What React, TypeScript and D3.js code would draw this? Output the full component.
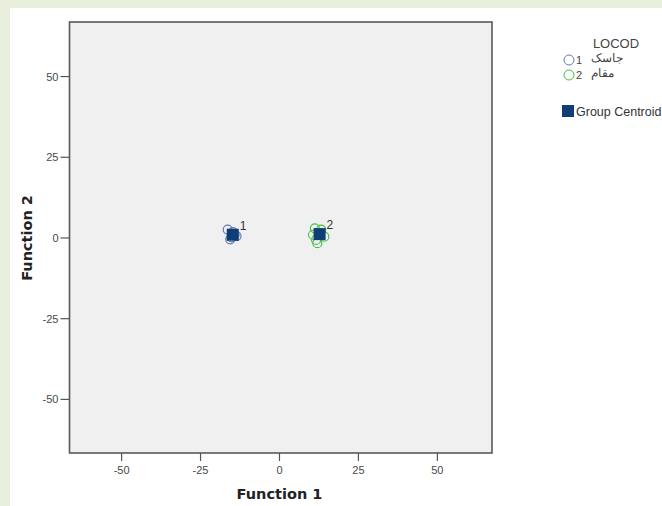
import React from "react";
import * as d3 from "d3";

const xTicks = [-50, -25, 0, 25, 50];
const yTicks = [50, 25, 0, -25, -50];
const groupCodes = [1, 2];
const groupNames = ["جاسک", "مقام"];
const groupColors = ["#6878b8", "#45c045"];
const group1F1 = [-16.4, -14.2, -15.6, -13.6, -14.8, -15.2];
const group1F2 = [2.6, 1.0, -0.4, 0.6, 1.8, 0.2];
const group2F1 = [11.2, 14.2, 12.0, 10.6, 13.2, 11.6, 12.8];
const group2F2 = [3.0, 0.4, -1.6, 1.0, 2.6, -0.6, 1.4];
const centroidF1 = [-14.8, 12.7];
const centroidF2 = [1.0, 1.2];

export default function App() {
  const W = 662, H = 506;
  const left = 69.5, right = 492, top = 22, bottom = 453;
  const x = d3.scaleLinear().domain([-66.5, 67.3]).range([left, right]);
  const y = d3.scaleLinear().domain([-66.6, 66.9]).range([bottom, top]);
  const groups = [
    { f1: group1F1, f2: group1F2 },
    { f1: group2F1, f2: group2F2 },
  ];
  const font = "Arial, 'Liberation Sans', sans-serif";
  const boldFont = "'DejaVu Sans', Arial, sans-serif";
  return (
    <svg width={W} height={H} style={{ position: "absolute", left: 0, top: 0 }} fontFamily={font}>
      <rect x={0} y={0} width={W} height={H} fill="#e8efdd" />
      <rect x={10} y={8} width={W - 10} height={H - 8} fill="#ffffff" />
      <defs>
        <clipPath id="plot">
          <rect x={left} y={top} width={right - left} height={bottom - top} />
        </clipPath>
      </defs>
      <rect x={left} y={top} width={right - left} height={bottom - top} fill="#f0f0f0" />
      <g clipPath="url(#plot)">
        {groups.map((g, gi) =>
          g.f1.map((v, i) => (
            <circle key={`${gi}-${i}`} cx={x(v)} cy={y(g.f2[i])} r={4.5} fill="none" stroke={groupColors[gi]} strokeWidth={1.2} />
          ))
        )}
        {centroidF1.map((v, i) => (
          <rect key={i} x={x(v) - 6} y={y(centroidF2[i]) - 6} width={12} height={12} fill="#0f3d75" />
        ))}
        {centroidF1.map((v, i) => (
          <text key={`l${i}`} x={x(v) + 7} y={y(centroidF2[i]) - 5} fontSize={12} fill="#333">{groupCodes[i]}</text>
        ))}
      </g>
      <rect x={left} y={top} width={right - left} height={bottom - top} fill="none" stroke="#595959" strokeWidth={1.6} />
      {xTicks.map((t) => (
        <g key={t}>
          <line x1={x(t)} x2={x(t)} y1={bottom} y2={bottom + 8} stroke="#555" strokeWidth={1.2} />
          <text x={x(t)} y={bottom + 21} textAnchor="middle" fontSize={11} fill="#484848">{t}</text>
        </g>
      ))}
      {yTicks.map((t) => (
        <g key={t}>
          <line x1={left - 9} x2={left} y1={y(t)} y2={y(t)} stroke="#555" strokeWidth={1.2} />
          <text x={left - 11} y={y(t) + 4} textAnchor="end" fontSize={11} fill="#484848">{t}</text>
        </g>
      ))}
      <text x={x(0)} y={499} textAnchor="middle" fontSize={14.5} fontWeight="bold" fontFamily={boldFont} fill="#222">Function 1</text>
      <text transform={`translate(32,${y(0)}) rotate(-90)`} textAnchor="middle" fontSize={14.5} fontWeight="bold" fontFamily={boldFont} fill="#222">Function 2</text>
      <text x={616} y={48} textAnchor="middle" fontSize={13} fill="#444">LOCOD</text>
      {groupCodes.map((c, i) => (
        <g key={c}>
          <circle cx={569} cy={60 + i * 15} r={5} fill="none" stroke={groupColors[i]} strokeWidth={1} />
          <text x={576} y={64 + i * 15} fontSize={11} fill="#444">{c}</text>
          <text x={591} y={62 + i * 15} textAnchor="start" fontSize={11.5} fill="#444">{groupNames[i]}</text>
        </g>
      ))}
      <rect x={562} y={105} width={12} height={12} fill="#0f3d75" />
      <text x={576} y={116} fontSize={12.5} fill="#333">Group Centroid</text>
    </svg>
  );
}
